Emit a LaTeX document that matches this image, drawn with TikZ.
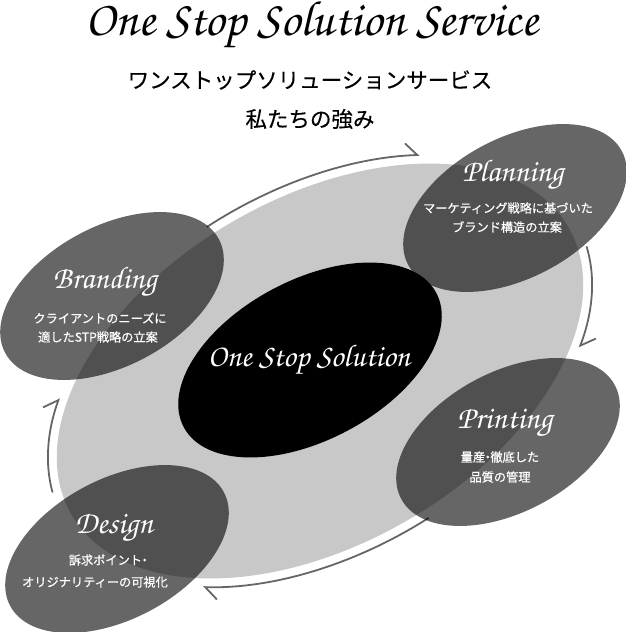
\documentclass[tikz,border=0pt]{standalone}
\usepackage{fontspec}
\usepackage{graphicx}
\newfontfamily\jp[FakeBold=0.6]{Noto Sans CJK JP}
\newfontfamily\jpt[FakeBold=0.35]{Noto Sans CJK JP}
\usetikzlibrary{shapes.geometric, arrows.meta}
\newcommand{\scr}{\usefont{OT1}{pzc}{mb}{it}}
\definecolor{ringgray}{HTML}{666666}
\definecolor{bggray}{HTML}{C8C8C8}
\begin{document}
\begin{tikzpicture}[x=1pt, y=1pt,
  bubble/.style={ellipse, draw=none, fill=black, fill opacity=0.6, inner sep=0pt, minimum width=242pt, minimum height=140pt, rotate=28},
  ringarc/.style={draw=ringgray, line width=1.8pt, -{Straight Barb[harpoon, length=12pt, width=24pt, line width=1.8pt]}},
  jlabel/.style={text=white, font=\jp\fontsize{12.2}{14}\selectfont, inner sep=0pt},
  jtitle/.style={text=black, font=\jpt\fontsize{21.5}{24}\selectfont, inner sep=0pt},
  slabel/.style={text=white, inner sep=0pt}
]
\useasboundingbox[fill=white] (0,0) rectangle (626,-632);

% base ellipse
\node[ellipse, fill=bggray, inner sep=0pt, minimum width=574pt, minimum height=346pt, rotate=30] (base) at (320,-371) {};

% ring arrows
\begin{scope}[shift={(320,-371)}, rotate=30]
  \coordinate (r1) at (95:296 and 182);
  \draw[ringarc] (r1) arc[start angle=95, end angle=49, x radius=296, y radius=182];
  \coordinate (r2) at (-8:296 and 182);
  \draw[ringarc] (r2) arc[start angle=-8, end angle=-37, x radius=296, y radius=182];
  \coordinate (r3) at (-86:296 and 182);
  \draw[ringarc] (r3) arc[start angle=-86, end angle=-135, x radius=296, y radius=182];
  \coordinate (r4) at (171:296 and 182);
  \draw[ringarc] (r4) arc[start angle=171, end angle=144, x radius=296, y radius=182];
\end{scope}

% core
\node[ellipse, fill=black, inner sep=0pt, minimum width=286pt, minimum height=160pt, rotate=28] (core) at (310,-360) {};
\node[slabel] (coreT) at (309,-360) {\resizebox{202pt}{!}{\scr One Stop Solution}};

% bubbles
\node[bubble] (planning) at (515,-208) {};
\node[bubble] (branding) at (112,-296) {};
\node[bubble] (printing) at (508,-442) {};
\node[bubble] (design) at (117,-549) {};

% titles
\node[inner sep=0pt] (title) at (312,-26) {\resizebox{452pt}{!}{\scr One Stop Solution Service}};
\node[jtitle] (sub1) at (310,-80) {ワンストップソリューションサービス};
\node[jtitle] (sub2) at (310,-119) {私たちの強み};

% planning text
\node[slabel] (planT) at (513,-175) {\resizebox{101pt}{!}{\scr Planning}};
\node[jlabel] (planA) at (508,-208) {マーケティング戦略に基づいた};
\node[jlabel] (planB) at (507,-227) {ブランド構造の立案};

% branding text
\node[slabel] (brandT) at (105,-282) {\resizebox{104pt}{!}{\scr Branding}};
\node[jlabel] (brandA) at (100,-318) {クライアントのニーズに};
\node[jlabel] (brandB) at (98,-337) {適したSTP戦略の立案};

% printing text
\node[slabel] (printT) at (505,-423) {\resizebox{95pt}{!}{\scr Printing}};
\node[jlabel] (printA) at (500,-457) {量産\kern-3.5pt・\kern-3.5pt徹底した};
\node[jlabel] (printB) at (500,-477) {品質の管理};

% design text
\node[slabel] (desT) at (114,-528) {\resizebox{78pt}{!}{\scr Design}};
\node[jlabel] (desA) at (108,-560) {訴求ポイント\kern-3.5pt・\kern-3.5pt};
\node[jlabel] (desB) at (95,-582) {オリジナリティーの可視化};
\end{tikzpicture}
\end{document}
